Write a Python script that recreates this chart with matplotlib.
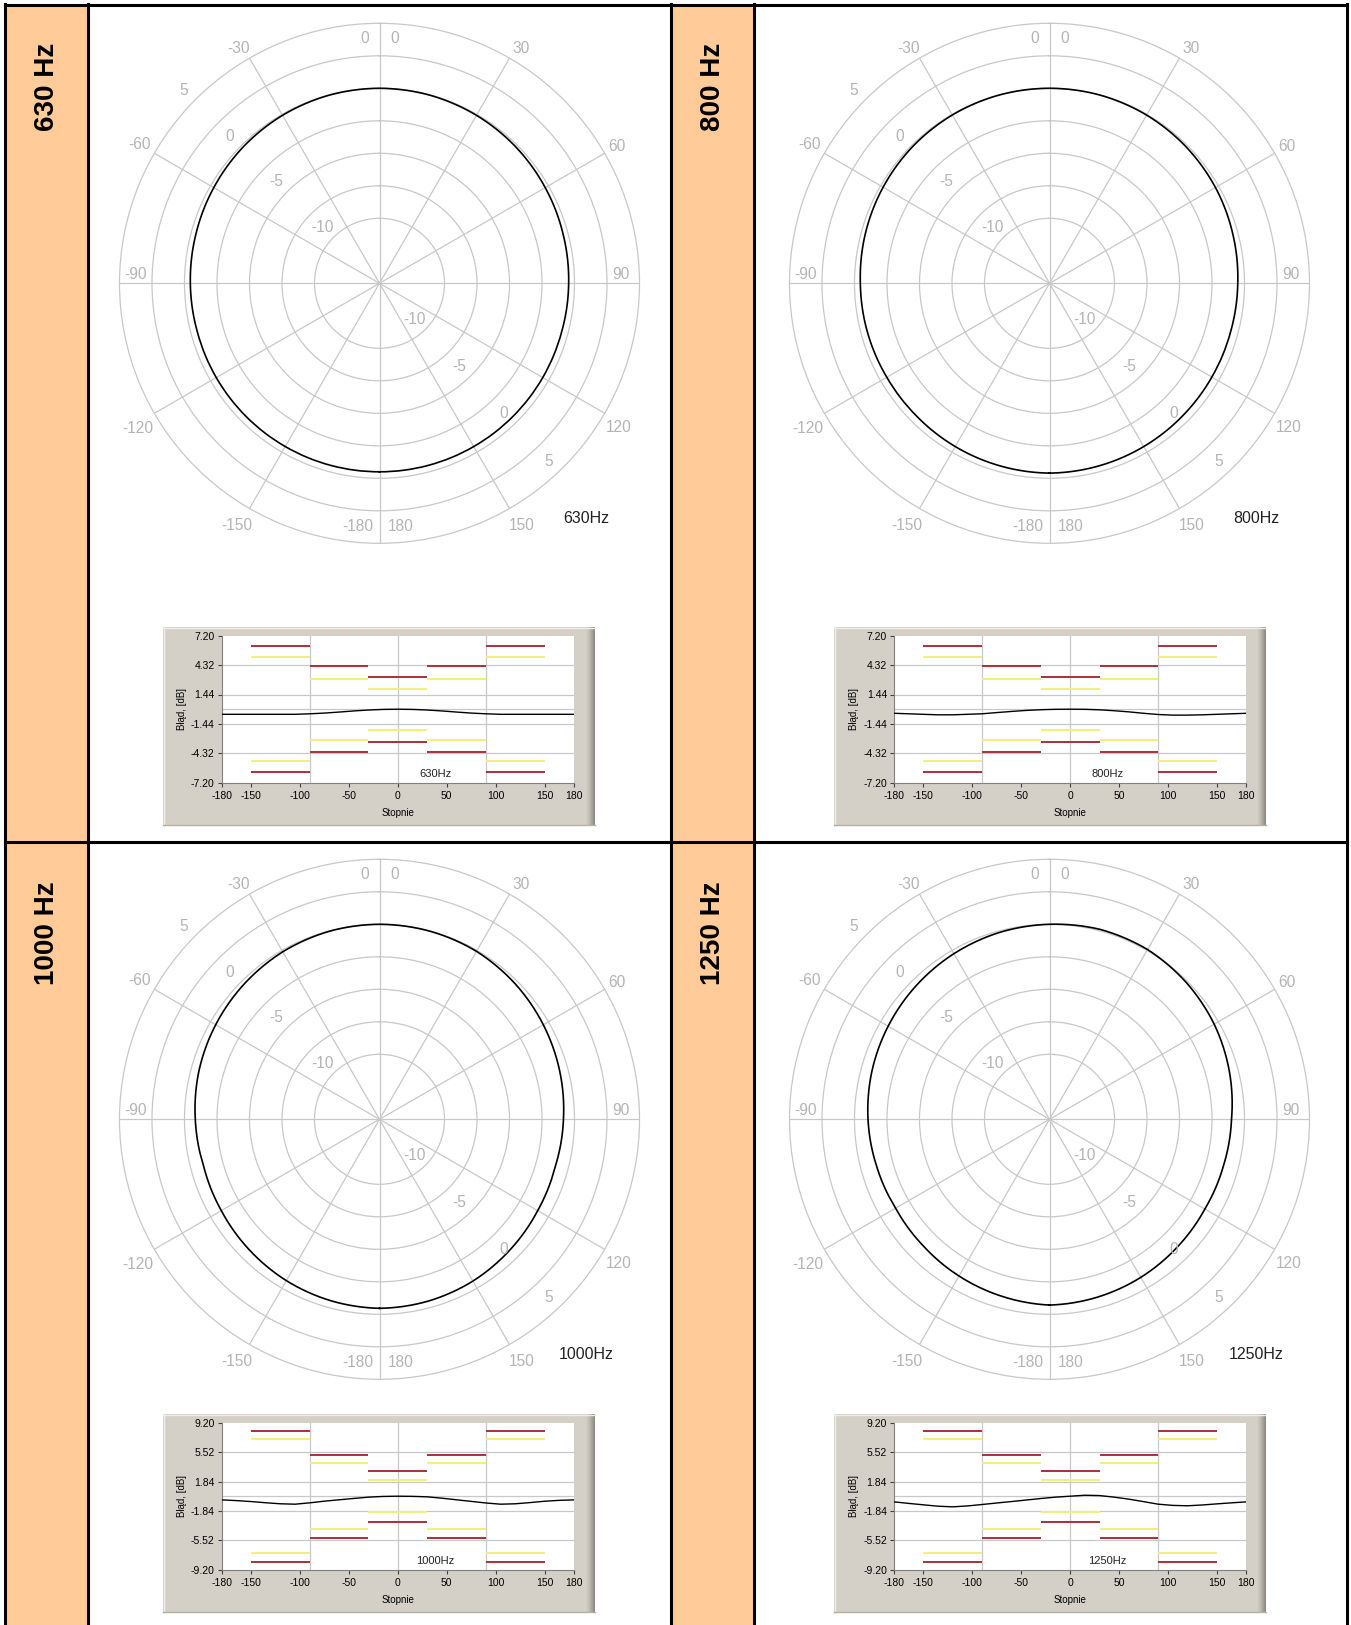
import numpy as np
import matplotlib
matplotlib.use("Agg")
import matplotlib.pyplot as plt
from matplotlib.patches import Rectangle

# rozmiar obrazu w pikselach
W, H = 1351, 1625

# dane
freqs = ['630', '800', '1000', '1250']
angles = [-180, -165, -150, -135, -120, -105, -90, -75, -60, -45, -30, -15, 0,
          15, 30, 45, 60, 75, 90, 105, 120, 135, 150, 165, 180]
err_630 = [-0.50, -0.50, -0.50, -0.50, -0.50, -0.50, -0.45, -0.38, -0.28, -0.17, -0.08, -0.02, 0.00,
           -0.02, -0.08, -0.17, -0.28, -0.38, -0.45, -0.50, -0.50, -0.50, -0.50, -0.50, -0.50]
err_800 = [-0.40, -0.45, -0.50, -0.55, -0.55, -0.50, -0.45, -0.33, -0.22, -0.12, -0.05, -0.01, 0.00,
           -0.01, -0.06, -0.15, -0.26, -0.40, -0.52, -0.58, -0.58, -0.55, -0.50, -0.45, -0.40]
err_1000 = [-0.46, -0.55, -0.67, -0.82, -0.95, -1.00, -0.83, -0.62, -0.45, -0.28, -0.12, -0.03, 0.00,
            -0.02, -0.08, -0.25, -0.45, -0.65, -0.85, -1.00, -0.95, -0.80, -0.63, -0.52, -0.46]
err_1250 = [-0.71, -0.90, -1.08, -1.25, -1.33, -1.22, -1.04, -0.85, -0.67, -0.48, -0.29, -0.12, 0.00,
            0.12, 0.08, -0.12, -0.37, -0.68, -1.00, -1.15, -1.20, -1.10, -0.96, -0.83, -0.71]
errors = [err_630, err_800, err_1000, err_1250]

# granice tolerancji (segmenty katowe)
seg_edges = [-150, -90, -30, 30, 90, 150]
red_lo = [6.2, 4.2, 3.2, 4.2, 6.2]
yel_lo = [5.1, 3.0, 2.0, 3.0, 5.1]
red_hi = [8.2, 5.2, 3.2, 5.2, 8.2]
yel_hi = [7.1, 4.1, 2.0, 4.1, 7.1]
yticks_lo = [7.20, 4.32, 1.44, -1.44, -4.32, -7.20]
yticks_hi = [9.20, 5.52, 1.84, -1.84, -5.52, -9.20]
xticks = [-180, -150, -100, -50, 0, 50, 100, 150, 180]

rings = [-10, -7.5, -5, -2.5, 0, 2.5]
ring_labels = [5, 0, -5, -10]

GRID = '#c8c8c8'
LBL = '#b4b4b4'
ORANGE = '#ffcc99'
RED = '#a8303c'
YEL = '#f0f078'
PANEL = '#d4d0c8'


def frac(left, top, width, height):
    return [left / W, 1 - (top + height) / H, width / W, height / H]


plt.rcParams['axes.unicode_minus'] = False
fig = plt.figure(figsize=(W / 100, H / 100), dpi=100)
plt.rcParams['font.family'] = ['Liberation Sans', 'DejaVu Sans']

# tlo - tabela
bg = fig.add_axes([0, 0, 1, 1], zorder=0)
bg.set_xlim(0, W)
bg.set_ylim(H, 0)
bg.axis('off')
for x0 in (5, 671):
    bg.add_patch(Rectangle((x0, 5), 83, H, facecolor=ORANGE, edgecolor='none'))
lw_tab = 2.2
bg.plot([5, 1347], [5, 5], color='k', lw=lw_tab)
bg.plot([5, 1347], [841.5, 841.5], color='k', lw=lw_tab)
for x in (5, 88, 671, 754, 1347):
    bg.plot([x, x], [4, H], color='k', lw=lw_tab)

side_x = [46.5, 712.5, 46.5, 712.5]
side_top = [43, 43, 881, 881]

# gradient prawej krawedzi panelu
bevel = ['#d0ccc4', '#ccc8c0', '#c6c2ba', '#beBab2', '#b6b2aa', '#aca8a0', '#a29e96', '#98948c', '#8e8a82']

for i, f in enumerate(freqs):
    r = i // 2
    c = i % 2
    dx = 670 * c
    cy = [283.3, 1119.3][r]
    cx = 379.5 + dx

    # etykieta w kolumnie pomaranczowej
    bg.text(side_x[i], side_top[i], f + ' Hz', rotation=90, ha='center', va='top',
            fontsize=20, fontweight='bold', color='k')

    # wykres biegunowy
    R = 260
    ax = fig.add_axes(frac(cx - R, cy - R, 2 * R, 2 * R), projection='polar', zorder=2)
    ax.set_theta_zero_location('N')
    ax.set_theta_direction(-1)
    ax.set_ylim(-15, 5)
    ax.set_rticks(rings)
    ax.set_yticklabels([])
    ax.set_thetagrids(range(0, 360, 30), labels=[])
    ax.grid(True, color=GRID, lw=0.9)
    ax.spines['polar'].set_color(GRID)
    ax.spines['polar'].set_linewidth(0.9)
    ax.tick_params(length=0)
    th = np.deg2rad(angles)
    line, = ax.plot(th, errors[i], color='k', lw=1.2)
    line.get_path()._interpolation_steps = 40

    for txt, a, rr in [('0', -3.5, 3.9), ('0', 3.5, 3.9), ('-30', -31, 6.1), ('30', 31, 6.1),
                       ('-60', -60, 6.3), ('60', 60, 6.1), ('-90', -88, 3.8), ('90', 88, 3.6),
                       ('-120', -121, 6.7), ('120', 121, 6.5), ('-150', -149.5, 6.6),
                       ('150', 149.5, 6.6), ('-180', -175, 3.8), ('180', 175, 3.8)]:
        ax.text(np.deg2rad(a), rr, txt, ha='center', va='center', fontsize=11.2, color=LBL)
    for v in ring_labels:
        ax.text(np.deg2rad(-45.5), v + 1.15, str(v), ha='center', va='center', fontsize=11.2, color=LBL)
        ax.text(np.deg2rad(136.5), v - 1.15, str(v), ha='center', va='center', fontsize=11.2, color=LBL)
    bg.text(586 + dx, cy + 235, f + 'Hz', ha='center', va='center', fontsize=11.5, color='#222222')

    # wykres bledu
    px0 = [163, 834][c]
    py0 = [627, 1414][r]
    bg.add_patch(Rectangle((px0, py0), 432, 198.5, facecolor=PANEL, edgecolor='none'))
    bg.plot([px0, px0 + 432], [py0 + 0.5, py0 + 0.5], color='#f0eee8', lw=1)
    bg.plot([px0 + 0.5, px0 + 0.5], [py0, py0 + 198.5], color='#f0eee8', lw=1)
    for k, col in enumerate(bevel):
        bg.add_patch(Rectangle((px0 + 423 + k, py0), 1.05, 198.5, facecolor=col, edgecolor='none'))
    bg.plot([px0, px0 + 432], [py0 + 198, py0 + 198], color='#b4b0a8', lw=1)

    plot_left = [221.7, 894][c]
    plot_top = [635.7, 1422.7][r]
    ea = fig.add_axes(frac(plot_left, plot_top, 352.3, 147), zorder=3)
    ea.set_facecolor('white')
    lim = 7.2 if r == 0 else 9.2
    yt = yticks_lo if r == 0 else yticks_hi
    rl = red_lo if r == 0 else red_hi
    yl = yel_lo if r == 0 else yel_hi
    ea.set_xlim(-180, 180)
    ea.set_ylim(-lim, lim)
    for y in yt[1:-1] + [0]:
        ea.axhline(y, color=GRID, lw=0.9, zorder=1)
    for x in (-90, 0, 90):
        ea.axvline(x, color=GRID, lw=0.9, zorder=1)
    for k in range(5):
        x1, x2 = seg_edges[k], seg_edges[k + 1]
        ea.hlines([rl[k], -rl[k]], x1, x2, color=RED, lw=1.4, zorder=2)
        ea.hlines([yl[k], -yl[k]], x1, x2, color=YEL, lw=1.4, zorder=2)
    ea.plot(angles, errors[i], color='k', lw=1.0, zorder=3)
    ea.text(38, -6.3 if r == 0 else -8.1, f + 'Hz', ha='center', va='center', fontsize=8, color='#222222')

    ea.set_yticks(yt)
    ea.set_yticklabels(['%.2f' % v for v in yt])
    ea.set_xticks(xticks)
    ea.tick_params(labelsize=7.5, length=3, width=0.8, color='#404040', pad=2)
    ea.tick_params(axis='x', pad=3)
    for s in ('top', 'right'):
        ea.spines[s].set_visible(False)
    for s in ('left', 'bottom'):
        ea.spines[s].set_color('#808080')
        ea.spines[s].set_linewidth(0.8)
    ea.set_xlabel('Stopnie', fontsize=7, labelpad=5)
    ea.set_ylabel('Błąd, [dB]', fontsize=7, labelpad=3)

fig.savefig('out.png', dpi=100)
